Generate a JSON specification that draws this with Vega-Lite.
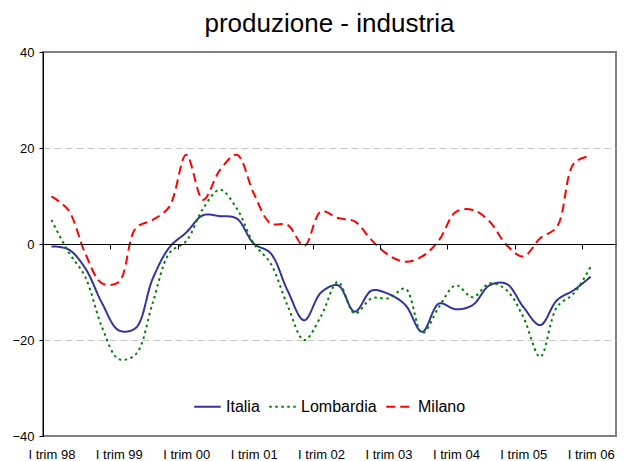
{
  "$schema": "https://vega.github.io/schema/vega-lite/v6.json",
  "width": 573,
  "height": 384,
  "autosize": {"type": "none"},
  "padding": {"left": 43, "top": 52, "right": 10, "bottom": 25},
  "background": "white",
  "config": {
    "font": "Liberation Sans",
    "view": {"stroke": "#808080", "strokeWidth": 2},
    "axis": {"labelColor": "black", "labelFont": "Liberation Sans"}
  },
  "title": {"text": "produzione - industria", "fontSize": 26, "fontWeight": "normal", "color": "black", "font": "Liberation Sans", "offset": 9, "anchor": "middle"},
  "data": {"values": [
    {"t":0,"serie":"Italia","v":-0.5},{"t":1,"serie":"Italia","v":-1.1},{"t":2,"serie":"Italia","v":-5},{"t":3,"serie":"Italia","v":-12.3},{"t":4,"serie":"Italia","v":-18},{"t":5,"serie":"Italia","v":-17.5},{"t":6,"serie":"Italia","v":-7.3},{"t":7,"serie":"Italia","v":-0.7},{"t":8,"serie":"Italia","v":2.4},{"t":9,"serie":"Italia","v":6.0},{"t":10,"serie":"Italia","v":5.8},{"t":11,"serie":"Italia","v":5.3},{"t":12,"serie":"Italia","v":0.1},{"t":13,"serie":"Italia","v":-1.9},{"t":14,"serie":"Italia","v":-9.6},{"t":15,"serie":"Italia","v":-15.9},{"t":16,"serie":"Italia","v":-10.1},{"t":17,"serie":"Italia","v":-8.6},{"t":18,"serie":"Italia","v":-14.1},{"t":19,"serie":"Italia","v":-9.7},{"t":20,"serie":"Italia","v":-10.4},{"t":21,"serie":"Italia","v":-12.7},{"t":22,"serie":"Italia","v":-18.3},{"t":23,"serie":"Italia","v":-12.4},{"t":24,"serie":"Italia","v":-13.6},{"t":25,"serie":"Italia","v":-12.7},{"t":26,"serie":"Italia","v":-8.6},{"t":27,"serie":"Italia","v":-8.3},{"t":28,"serie":"Italia","v":-13.1},{"t":29,"serie":"Italia","v":-16.9},{"t":30,"serie":"Italia","v":-11.7},{"t":31,"serie":"Italia","v":-9.6},{"t":32,"serie":"Italia","v":-6.8},
    {"t":0,"serie":"Lombardia","v":5.0},{"t":1,"serie":"Lombardia","v":-1.6},{"t":2,"serie":"Lombardia","v":-6.8},{"t":3,"serie":"Lombardia","v":-17.3},{"t":4,"serie":"Lombardia","v":-24},{"t":5,"serie":"Lombardia","v":-23},{"t":6,"serie":"Lombardia","v":-12.4},{"t":7,"serie":"Lombardia","v":-1.9},{"t":8,"serie":"Lombardia","v":0.6},{"t":9,"serie":"Lombardia","v":7.4},{"t":10,"serie":"Lombardia","v":11.3},{"t":11,"serie":"Lombardia","v":7.4},{"t":12,"serie":"Lombardia","v":0.1},{"t":13,"serie":"Lombardia","v":-4},{"t":14,"serie":"Lombardia","v":-12.7},{"t":15,"serie":"Lombardia","v":-20},{"t":16,"serie":"Lombardia","v":-15},{"t":17,"serie":"Lombardia","v":-7.9},{"t":18,"serie":"Lombardia","v":-14.5},{"t":19,"serie":"Lombardia","v":-11.3},{"t":20,"serie":"Lombardia","v":-11.3},{"t":21,"serie":"Lombardia","v":-9.3},{"t":22,"serie":"Lombardia","v":-18.6},{"t":23,"serie":"Lombardia","v":-13.1},{"t":24,"serie":"Lombardia","v":-8.6},{"t":25,"serie":"Lombardia","v":-11.1},{"t":26,"serie":"Lombardia","v":-8.2},{"t":27,"serie":"Lombardia","v":-9.6},{"t":28,"serie":"Lombardia","v":-15.2},{"t":29,"serie":"Lombardia","v":-23.5},{"t":30,"serie":"Lombardia","v":-13.1},{"t":31,"serie":"Lombardia","v":-10.3},{"t":32,"serie":"Lombardia","v":-4.7},
    {"t":0,"serie":"Milano","v":9.9},{"t":1,"serie":"Milano","v":7.1},{"t":2,"serie":"Milano","v":-1.9},{"t":3,"serie":"Milano","v":-8.2},{"t":4,"serie":"Milano","v":-7.9},{"t":5,"serie":"Milano","v":3.3},{"t":6,"serie":"Milano","v":5},{"t":7,"serie":"Milano","v":7.8},{"t":8,"serie":"Milano","v":18.6},{"t":9,"serie":"Milano","v":9.2},{"t":10,"serie":"Milano","v":15.4},{"t":11,"serie":"Milano","v":18.6},{"t":12,"serie":"Milano","v":10.6},{"t":13,"serie":"Milano","v":4.3},{"t":14,"serie":"Milano","v":4.0},{"t":15,"serie":"Milano","v":-0.4},{"t":16,"serie":"Milano","v":6.8},{"t":17,"serie":"Milano","v":5.4},{"t":18,"serie":"Milano","v":4.7},{"t":19,"serie":"Milano","v":0.8},{"t":20,"serie":"Milano","v":-2.3},{"t":21,"serie":"Milano","v":-3.7},{"t":22,"serie":"Milano","v":-2.6},{"t":23,"serie":"Milano","v":0.8},{"t":24,"serie":"Milano","v":6.7},{"t":25,"serie":"Milano","v":7.1},{"t":26,"serie":"Milano","v":4.7},{"t":27,"serie":"Milano","v":-0.2},{"t":28,"serie":"Milano","v":-2.6},{"t":29,"serie":"Milano","v":1.2},{"t":30,"serie":"Milano","v":3.6},{"t":31,"serie":"Milano","v":16.8},{"t":32,"serie":"Milano","v":18.4}
  ]},
  "layer": [
    {
      "mark": {"type": "line", "interpolate": "catmull-rom", "strokeWidth": 2},
      "encoding": {
        "x": {"field": "t", "type": "quantitative", "scale": {"domain": [-0.5, 33.5], "nice": false, "zero": false},
          "axis": {"orient": "bottom", "offset": -192, "title": null, "labels": false, "grid": false, "values": [3.5, 7.5, 11.5, 15.5, 19.5, 23.5, 27.5, 31.5], "ticks": true, "tickSize": 5, "tickColor": "black", "domain": true, "domainColor": "black", "domainWidth": 1, "zindex": 2}},
        "y": {"field": "v", "type": "quantitative", "scale": {"domain": [-40, 40], "nice": false},
          "axis": {"title": null, "values": [-40, -20, 0, 20, 40], "grid": true, "gridColor": "#c8c8c8", "gridDash": [7, 4], "gridWidth": 1, "gridOpacity": {"condition": {"test": "datum.value === 0 || datum.value === 40 || datum.value === -40", "value": 0}, "value": 1}, "domainColor": "black", "domainWidth": 1, "tickColor": "black", "tickSize": 4, "labelFontSize": 13, "labelPadding": 5}},
        "color": {"field": "serie", "type": "nominal", "scale": {"domain": ["Italia", "Lombardia", "Milano"], "range": ["#333399", "#008000", "#ff0000"]},
          "legend": {"title": null, "orient": "none", "direction": "horizontal", "legendX": 150, "legendY": 340, "symbolType": "stroke", "symbolSize": 700, "symbolStrokeWidth": 2, "labelFontSize": 16, "labelColor": "black", "labelOffset": 4, "columnPadding": 5}},
        "strokeDash": {"field": "serie", "type": "nominal", "scale": {"domain": ["Italia", "Lombardia", "Milano"], "range": [[1, 0], [2.5, 3.5], [9, 5]]}, "legend": null}
      }
    },
    {
      "mark": {"type": "point", "opacity": 0},
      "encoding": {
        "x": {"field": "t", "type": "quantitative",
          "axis": {"orient": "bottom", "title": null, "grid": false, "ticks": false, "domain": false, "values": [0, 4, 8, 12, 16, 20, 24, 28, 32], "labelFontSize": 13, "labelPadding": 12, "labelExpr": "'I trim ' + (datum.value < 8 ? (98 + datum.value / 4) : ('0' + (datum.value / 4 - 2)))"}},
        "y": {"field": "v", "type": "quantitative"}
      }
    }
  ],
  "resolve": {"axis": {"x": "independent"}}
}
